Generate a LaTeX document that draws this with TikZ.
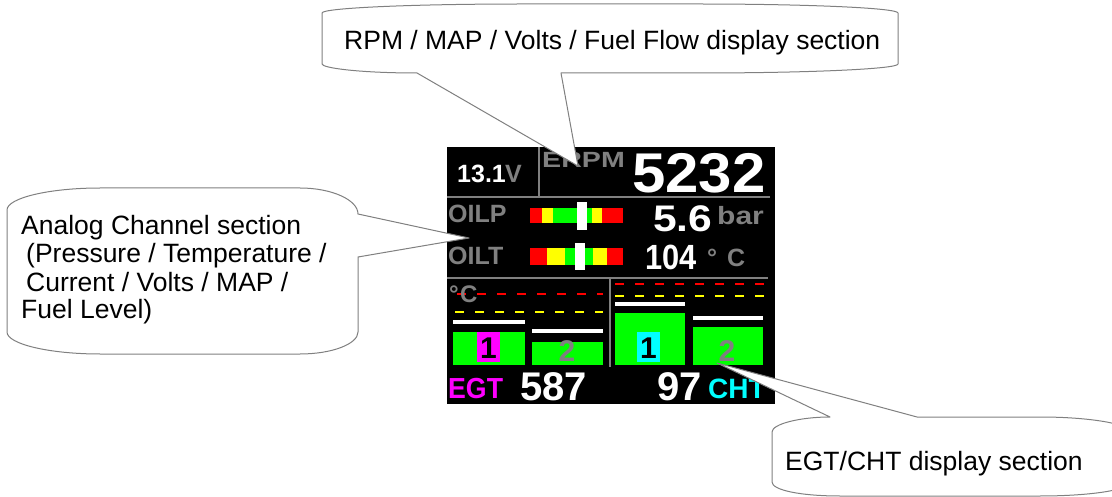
\documentclass[tikz,border=0pt]{standalone}
\usepackage{fontspec}
\setmainfont{Liberation Sans}
\definecolor{lgray}{RGB}{128,128,128}
\definecolor{scrgray}{RGB}{128,128,128}
\definecolor{bred}{RGB}{255,0,0}
\definecolor{byel}{RGB}{255,255,0}
\definecolor{bgreen}{RGB}{0,255,0}
\definecolor{bmag}{RGB}{255,0,255}
\definecolor{bcyan}{RGB}{0,255,255}
\newcommand{\fsz}[1]{\fontsize{#1}{#1}\selectfont}
\tikzset{
  callout/.style={draw=lgray, line width=1pt, fill=white, line join=round},
  ctext/.style={anchor=base west, inner sep=0pt, font=\fsz{26.5}, text=black},
  stxt/.style={anchor=base west, inner sep=0pt},
  scrline/.style={draw=scrgray, line width=2pt},
  reddash/.style={draw=bred, line width=2.5pt, dash pattern=on 9pt off 11pt},
  yeldash/.style={draw=byel, line width=2.5pt, dash pattern=on 9pt off 11pt}
}
\begin{document}
\begin{tikzpicture}[x=1pt,y=-1pt]
\useasboundingbox (0,0) rectangle (1112,497);
\fill[white] (0,0) rectangle (1112,497);
\clip (0,0) rectangle (1112,497);

% screen
\fill[black] (447,147) rectangle (775,404);
\draw[scrline] (539,147) -- (539,197);
\draw[scrline] (447,197) -- (770,197);
\draw[scrline] (447,278) -- (768,278);
\draw[scrline] (610,278) -- (610,367);

% top row
\node[stxt, text=white, font=\fsz{25}\bfseries] (volt) at (457,183) {13.1};
\node[stxt, text=scrgray, font=\fsz{25}\bfseries] (voltu) at (505,183) {V};
\node[stxt, text=scrgray, font=\fsz{22}\bfseries] (erpm) at (542,168) {\scalebox{1.3}[1]{ERPM}};
\node[stxt, text=white, font=\fsz{56}\bfseries] (rpm) at (632,193) {\scalebox{1.07}[1]{5232}};

% OILP
\node[stxt, text=scrgray, font=\fsz{25}\bfseries] (oilp) at (448,223) {OILP};
\fill[bred] (530,208) rectangle (542,223);
\fill[byel] (542,208) rectangle (553,223);
\fill[bgreen] (553,208) rectangle (592,223);
\fill[byel] (592,208) rectangle (602,223);
\fill[bred] (602,208) rectangle (623,223);
\fill[white] (577,202) rectangle (587,230);
\node[stxt, text=white, font=\fsz{37}\bfseries] (oilpv) at (653,232) {\scalebox{1.15}[1]{5.6}};
\node[stxt, text=scrgray, font=\fsz{25}\bfseries] (oilpu) at (717,225) {\scalebox{1.2}[1]{bar}};

% OILT
\node[stxt, text=scrgray, font=\fsz{25}\bfseries] (oilt) at (448,265) {OILT};
\fill[bred] (530,248) rectangle (547,265);
\fill[byel] (547,248) rectangle (565,265);
\fill[bgreen] (565,248) rectangle (593,265);
\fill[byel] (593,248) rectangle (607,265);
\fill[bred] (607,248) rectangle (623,265);
\fill[white] (575,243) rectangle (585,270);
\node[stxt, text=white, font=\fsz{35}\bfseries] (oiltv) at (645,270) {\scalebox{0.88}[1]{104}};
\node[stxt, text=scrgray, font=\fsz{25}\bfseries] (deg1) at (707,267) {°};
\node[stxt, text=scrgray, font=\fsz{25}\bfseries] (c1) at (727,267) {C};

% EGT panel
\draw[reddash] (457,294) -- (603,294);
\draw[yeldash] (455,312) -- (603,312);
\node[stxt, text=scrgray, font=\fsz{24}\bfseries] (deg2) at (449,303) {°};
\node[stxt, text=scrgray, font=\fsz{24}\bfseries] (c2) at (460,303) {C};
\fill[white] (453,320) rectangle (525,324);
\fill[bgreen] (453,332) rectangle (525,365);
\fill[bmag] (477,332) rectangle (500,362);
\node[anchor=base, inner sep=0pt, text=black, font=\fsz{30}\bfseries] (e1) at (488.5,358) {1};
\fill[white] (532,329) rectangle (603,333);
\fill[bgreen] (532,342) rectangle (603,365);
\node[anchor=base, inner sep=0pt, text=scrgray, font=\fsz{30}\bfseries] (e2) at (567,362) {2};

% CHT panel
\draw[reddash] (615,284) -- (767,284);
\draw[yeldash] (615,296) -- (767,296);
\fill[white] (615,302) rectangle (685,306);
\fill[bgreen] (615,313) rectangle (685,365);
\fill[bcyan] (637,332) rectangle (660,362);
\node[anchor=base, inner sep=0pt, text=black, font=\fsz{30}\bfseries] (h1) at (648.5,358) {1};
\fill[white] (693,316) rectangle (763,320);
\fill[bgreen] (693,327) rectangle (763,365);
\node[anchor=base, inner sep=0pt, text=scrgray, font=\fsz{30}\bfseries] (h2) at (727,362) {2};

% bottom row
\node[stxt, text=bmag, font=\fsz{29}\bfseries] (egt) at (448,398) {\scalebox{0.92}[1]{EGT}};
\node[stxt, text=white, font=\fsz{40}\bfseries] (egtv) at (520,400) {587};
\node[stxt, text=white, font=\fsz{40}\bfseries] (chtv) at (657,400) {97};
\node[stxt, text=bcyan, font=\fsz{28}\bfseries] (cht) at (708,398) {CHT};

% left callout (its wedge lies over the screen edge)
\draw[callout] (7,210) .. controls (7,198) and (49,188) .. (100,188) -- (300,188)
  .. controls (332,188) and (358,200) .. (358,214) -- (469,238) -- (358,257) -- (358,332)
  .. controls (358,344) and (332,354) .. (300,354) -- (100,354)
  .. controls (49,354) and (7,344) .. (7,332) -- cycle;
\node[ctext] (l1) at (21,235) {Analog Channel section};
\node[ctext] (l2) at (26,263) {(Pressure / Temperature /};
\node[ctext] (l3) at (26,291) {Current / Volts / MAP /};
\node[ctext] (l4) at (21,319) {Fuel Level)};

% top callout
\draw[callout] (522,4) -- (698,4) .. controls (808,4) and (898,8) .. (898,13) -- (898,64)
  .. controls (898,69) and (808,73) .. (698,73) -- (561,73) -- (578,166) -- (417,73)
  .. controls (360,73) and (322,68) .. (322,64) -- (322,13)
  .. controls (322,8) and (412,4) .. (522,4) -- cycle;
\node[ctext] (t1) at (344,50) {RPM / MAP / Volts / Fuel Flow display section};

% bottom-right callout
\draw[callout] (772,432) .. controls (772,424) and (800,417) .. (830,417) -- (717,363) -- (917,417)
  -- (1040,417) .. controls (1090,417) and (1130,424) .. (1130,432) -- (1130,482)
  .. controls (1130,490) and (1090,496) .. (1040,496) -- (840,496)
  .. controls (800,496) and (772,490) .. (772,482) -- cycle;
\node[ctext] (b1) at (785,470) {EGT/CHT display section};
\end{tikzpicture}
\end{document}
